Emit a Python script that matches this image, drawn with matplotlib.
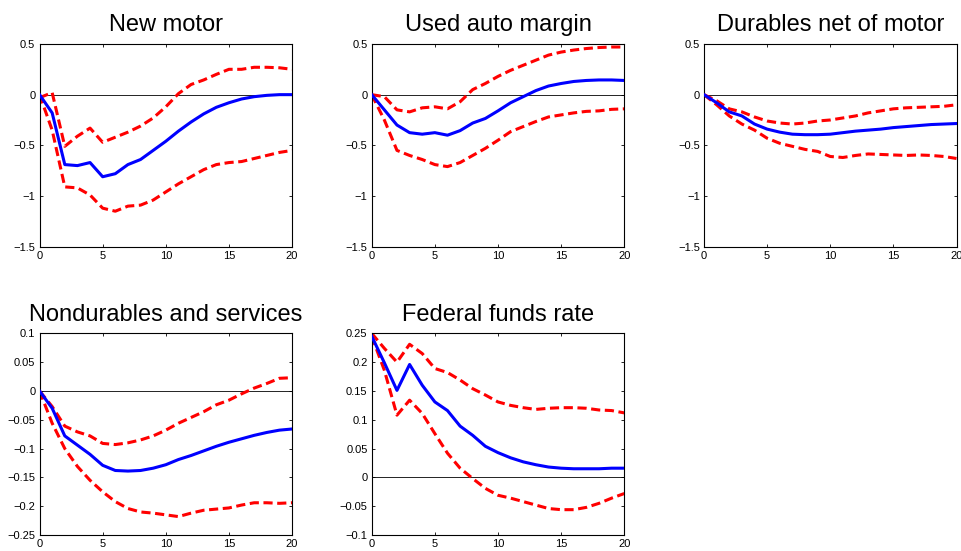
import matplotlib
matplotlib.use("Agg")
import matplotlib.pyplot as plt
import numpy as np

plt.rcParams['font.family'] = ['Liberation Sans', 'DejaVu Sans']

horizon = np.arange(21)

titles = ["New motor", "Used auto margin", "Durables net of motor",
          "Nondurables and services", "Federal funds rate"]

# impulse responses (point estimate, upper band, lower band)
new_motor = [0, -0.18, -0.69, -0.70, -0.67, -0.81, -0.78, -0.69, -0.64, -0.55, -0.46,
             -0.36, -0.27, -0.19, -0.125, -0.08, -0.043, -0.02, -0.007, 0.0, 0.0]
new_motor_hi = [-0.03, 0.02, -0.51, -0.41, -0.33, -0.47, -0.42, -0.37, -0.31, -0.23, -0.12,
                0.01, 0.10, 0.145, 0.20, 0.25, 0.25, 0.27, 0.27, 0.265, 0.25]
new_motor_lo = [0, -0.35, -0.91, -0.92, -0.99, -1.12, -1.15, -1.10, -1.09, -1.04, -0.96,
                -0.88, -0.81, -0.74, -0.69, -0.67, -0.66, -0.63, -0.60, -0.57, -0.55]

used_auto = [0, -0.15, -0.30, -0.375, -0.39, -0.375, -0.40, -0.355, -0.28, -0.235, -0.16,
             -0.08, -0.02, 0.04, 0.085, 0.11, 0.13, 0.14, 0.145, 0.145, 0.14]
used_auto_hi = [0, -0.02, -0.15, -0.17, -0.13, -0.12, -0.14, -0.07, 0.05, 0.11, 0.18,
                0.24, 0.29, 0.34, 0.39, 0.42, 0.44, 0.455, 0.465, 0.47, 0.47]
used_auto_lo = [0, -0.25, -0.55, -0.60, -0.64, -0.69, -0.71, -0.67, -0.60, -0.53, -0.45,
                -0.365, -0.315, -0.265, -0.22, -0.20, -0.18, -0.165, -0.16, -0.145, -0.14]

durables = [0, -0.08, -0.17, -0.21, -0.29, -0.34, -0.37, -0.39, -0.395, -0.395, -0.39,
            -0.375, -0.36, -0.35, -0.34, -0.325, -0.315, -0.305, -0.295, -0.29, -0.285]
durables_hi = [0, -0.06, -0.14, -0.17, -0.22, -0.26, -0.28, -0.29, -0.28, -0.26, -0.25,
               -0.23, -0.21, -0.18, -0.16, -0.14, -0.13, -0.125, -0.12, -0.115, -0.10]
durables_lo = [0, -0.10, -0.21, -0.29, -0.35, -0.43, -0.48, -0.51, -0.54, -0.56, -0.61,
               -0.62, -0.60, -0.585, -0.59, -0.595, -0.60, -0.595, -0.60, -0.61, -0.63]

nondurables = [0, -0.03, -0.078, -0.094, -0.11, -0.129, -0.138, -0.139, -0.138, -0.134, -0.128,
               -0.119, -0.112, -0.104, -0.096, -0.089, -0.083, -0.077, -0.072, -0.068, -0.066]
nondurables_hi = [0, -0.027, -0.061, -0.071, -0.078, -0.091, -0.093, -0.090, -0.085, -0.078, -0.068,
                  -0.056, -0.046, -0.036, -0.024, -0.016, -0.005, 0.005, 0.013, 0.022, 0.023]
nondurables_lo = [0, -0.056, -0.10, -0.131, -0.155, -0.175, -0.192, -0.204, -0.21, -0.212, -0.215,
                  -0.218, -0.212, -0.207, -0.205, -0.203, -0.198, -0.194, -0.194, -0.195, -0.194]

fedfunds = [0.245, 0.199, 0.151, 0.196, 0.16, 0.131, 0.116, 0.089, 0.073, 0.054, 0.043,
            0.034, 0.027, 0.022, 0.018, 0.016, 0.015, 0.015, 0.015, 0.016, 0.016]
fedfunds_hi = [0.25, 0.224, 0.20, 0.231, 0.215, 0.189, 0.182, 0.169, 0.154, 0.143, 0.131,
               0.125, 0.121, 0.118, 0.12, 0.121, 0.121, 0.12, 0.117, 0.116, 0.112]
fedfunds_lo = [0.245, 0.186, 0.108, 0.134, 0.111, 0.076, 0.042, 0.016, -0.002, -0.019, -0.031,
               -0.036, -0.042, -0.048, -0.054, -0.056, -0.056, -0.052, -0.045, -0.036, -0.028]

series = [(new_motor, new_motor_hi, new_motor_lo),
          (used_auto, used_auto_hi, used_auto_lo),
          (durables, durables_hi, durables_lo),
          (nondurables, nondurables_hi, nondurables_lo),
          (fedfunds, fedfunds_hi, fedfunds_lo)]

ylims = [(-1.5, 0.5), (-1.5, 0.5), (-1.5, 0.5), (-0.25, 0.1), (-0.1, 0.25)]
yticks = [[-1.5, -1, -0.5, 0, 0.5]] * 3 + [
    [-0.25, -0.2, -0.15, -0.1, -0.05, 0, 0.05, 0.1],
    [-0.1, -0.05, 0, 0.05, 0.1, 0.15, 0.2, 0.25]]
ytick_labels = [["\u22121.5", "\u22121", "\u22120.5", "0", "0.5"]] * 3 + [
    ["\u22120.25", "\u22120.2", "\u22120.15", "\u22120.1", "\u22120.05", "0", "0.05", "0.1"],
    ["\u22120.1", "\u22120.05", "0", "0.05", "0.1", "0.15", "0.2", "0.25"]]

# axes boxes in figure fractions
lefts = [0.0411, 0.3864, 0.7318]
width = 0.2625
boxes = [(lefts[0], 0.5523, width, 0.3679),
         (lefts[1], 0.5523, width, 0.3679),
         (lefts[2], 0.5523, width, 0.3679),
         (lefts[0], 0.0290, width, 0.3660),
         (lefts[1], 0.0290, width, 0.3660)]

fig = plt.figure(figsize=(9.62, 5.51), dpi=100)

for i in range(5):
    ax = fig.add_axes(boxes[i])
    mid, hi, lo = series[i]
    ax.axhline(0, color="black", linewidth=0.6, zorder=1)
    ax.plot(horizon, hi, color="red", linewidth=2.2, dashes=(3.0, 1.5), zorder=2)
    ax.plot(horizon, lo, color="red", linewidth=2.2, dashes=(3.0, 1.5), zorder=2)
    ax.plot(horizon, mid, color="blue", linewidth=2.2, zorder=3)

    ax.set_xlim(0, 20)
    ax.set_ylim(*ylims[i])
    ax.set_xticks([0, 5, 10, 15, 20])
    ax.set_yticks(yticks[i])
    ax.set_yticklabels(ytick_labels[i])
    ax.tick_params(direction="in", length=2.5, width=0.6, labelsize=8, pad=3,
                   top=True, right=True)
    for sp in ax.spines.values():
        sp.set_linewidth(0.8)
    ax.set_title(titles[i], fontsize=17, pad=9)

plt.savefig("out.png", dpi=100)
